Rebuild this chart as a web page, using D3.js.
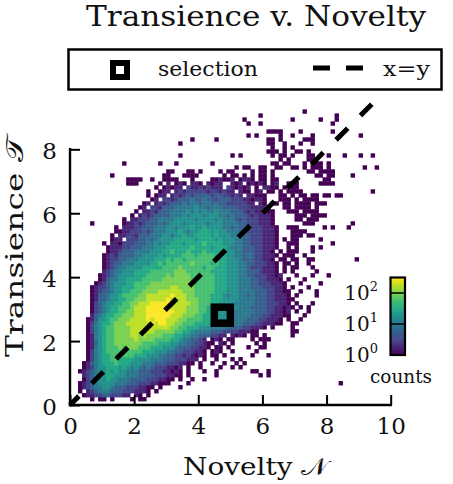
<!DOCTYPE html>
<html><head><meta charset="utf-8">
<script src="https://cdnjs.cloudflare.com/ajax/libs/d3/7.8.5/d3.min.js"></script>
<style>body{margin:0;background:#fff}svg{display:block}</style>
</head><body>
<svg id="chart" width="453" height="484"></svg>
<script>
// ---------------- data ----------------
const titleText = "Transience v. Novelty";
const xLabelText = "Novelty \u{1D4A9}";
const yLabelText = "Transience \u{1D4AF}";
const legendLabels = ["selection", "x=y"];
const xTicks = [0, 2, 4, 6, 8, 10];
const yTicks = [0, 2, 4, 6, 8];
const cbTicks = [1, 10, 100];
const cbTickExp = ["0", "1", "2"];
const binSize = 0.125;
const selectionPoint = [4.75, 2.81];
const identityRange = [0, 9.41];
// 2D histogram, one entry per run of bins: [y-bin row, first x-bin column, levels]
// level chars: '.' empty, '0'..'9','a' = 4*log10(count)   (spaces only separate groups)
const countRows = [
 [1,5,"0.00.0....0.00"],
 [2,3,"011223322211.10.0"],
 [3,2,"0.1234443332221110.0"],
 [4,2,"0123445543332221100.0"],[4,27,"0"],
 [5,2,"01234555544433322211000"],[5,29,"0"],[5,67,"0"],
 [6,3,"02345565544433332221100.0"],[6,30,"0"],[6,33,"0"],
 [7,3,"1234556655544433332221100.0"],[7,36,"0"],[7,47,"0.0"],
 [8,2,"01234556565544433322211010"],[8,29,"0"],[8,33,"0"],[8,36,"0"],[8,45,"00..0"],
 [9,3,"0124556665654543432221101.0"],[9,32,"0"],[9,37,"0"],[9,40,"0.0"],
 [10,3,"0134566676665554443332221100.0"],[10,35,"0"],[10,38,"0"],[10,41,"0.0"],
 [11,4,"0245667766665555444333222111.0"],[11,36,"0"],[11,40,"0.0"],
 [12,4,"02456 67777 77666 55544 33221 21010 .00.0"],[12,45,"0"],[12,49,"0"],
 [13,4,"02456 77778 77776 66555 44332 22110 .010. .0"],[13,46,"0"],
 [14,4,"01456 77787 88877 76665 55433 32211 0.00. 0"],[14,44,"0"],[14,47,"00"],
 [15,4,"01356 77888 88887 77766 65544 33221 00.10 .0"],[15,46,"0"],[15,48,"0"],
 [16,4,"01456 77888 88988 88777 76654 43321 .010. 00"],[16,45,"0"],[16,47,"000"],
 [17,4,"01456 77888 89989 88887 77665 54433 32211 .1010 .00"],[17,48,"0"],[17,55,"0"],
 [18,4,"02456 77888 89999 99888 88776 65444 43332 22211 100"],[18,55,"00"],
 [19,4,"02456 77888 89999 99999 98877 66655 54444 33332 21110 .0"],[19,55,"0"],
 [20,4,"02456 67888 99999 9a9aa 99887 77666 65555 44443 33221 1100"],[20,55,"00"],
 [21,4,"01355 67788 89999 a9aaa 99988 77776 66555 54444 33322 1110. 0"],[21,57,"0"],
 [22,5,"13456 67788 8999a aaaaa 99988 87766 65555 44444 33322 11100"],[22,58,"0"],
 [23,5,"02345 66778 8999a aaaaa a9998 88776 65555 44444 43332 21101 .0"],[23,59,"0"],
 [24,5,"02345 66777 8999a aaaaa 99998 88776 65555 45444 33332 21101 0.0"],[24,59,"0"],
 [25,5,"02345 56677 88999 aaaaa a9999 88777 66555 54444 43332 22110 .0"],[25,60,"0"],
 [26,5,"01334 55667 78889 9999a 99998 88777 66655 55444 43332 21110 0"],
 [27,5,"01334 55677 77889 99999 a9998 87777 66654 55443 43332 21110 .0"],[27,61,"0"],
 [28,5,"01233 45566 77788 88999 99988 87777 76665 55444 43332 21100 ..0"],[28,61,"0"],
 [29,5,"01223 45566 67778 88888 99888 87777 76665 55444 33322 2110. 0"],[29,59,"0"],
 [30,6,"01234 55566 77778 88888 88888 77777 66655 54443 32221 110"],[30,57,"0"],[30,62,"0"],
 [31,7,"01344 55666 67777 78888 88877 77776 66555 44433 22111 0.0"],[31,58,"0"],
 [32,7,"01234 55556 66777 77878 88877 77776 66555 44332 22110 1...0"],[32,60,"0"],[32,64,"0"],
 [33,8,"12344 55566 66777 77788 87777 77666 65554 43332 1110. 0.0"],[33,61,"0"],
 [34,8,"01234 45555 66666 77778 77777 67766 65554 43222 1110. 0.00"],[34,60,"0"],
 [35,8,"01233 44455 55667 67777 77877 77676 65554 43322 2110. 00.0"],[35,59,"0"],
 [36,8,"01223 34445 55566 67677 67777 77776 65554 33322 110.0 0.00"],[36,59,"00"],[36,71,"0"],
 [37,8,"01213 33344 55556 56666 77767 77766 65544 34322 1110. 000"],[37,58,"0"],
 [38,9,"01123 33444 45556 67666 76667 66666 55443 33221 10.0. 000"],[38,60,"0"],
 [39,9,"01112 23334 44555 66666 67666 65666 54443 33221 110.. 0.0"],[39,60,"0"],[39,62,"0"],
 [40,8,"0.110 22233 34454 55666 56666 76666 55544 33222 1110. .000"],[40,65,"0"],
 [41,10,"011.2 22334 34555 56666 65666 65655 54433 22211 10.0. 00"],[41,62,"0"],
 [42,10,"0.112 21333 44455 45565 56666 56555 44433 22211 10... 000.00"],
 [43,11,"00112 22323 44455 56545 56665 65544 43322 22111 0...0 000"],
 [44,11,"0.111 22333 44455 45556 55655 55443 43332 22111 0"],[44,54,"000"],[44,63,"0.0"],[44,69,"0"],
 [45,5,"0"],[45,13,"01121 23334 34555 45555 54555 44443 32221 110"],[45,58,"000"],[45,70,"0"],
 [46,13,"0.112 22334 44455 55545 55545 44432 32221 110"],[46,56,"00.000"],
 [47,15,"0.121 23333 44454 55545 55443 43332 12111 0"],[47,56,"000.0000"],
 [48,16,"0.112 13334 44454 54544 54443 33212 11100"],[48,54,"000.0000"],
 [49,17,"01.22 13334 44445 44344 43333 22211 110"],[49,53,"00.0000.0"],
 [50,12,"0"],[50,18,"01.12 12333 43443 44343 32222 211.1 0"],[50,50,"00.00.0000.000"],
 [51,20,"01.22 12333 43343 32333 22211 0110"],[51,52,"000.0.0000"],
 [52,19,"0.011 .1212 32333 32332 2121. 11000"],[52,52,"00.0.00.00.00.00"],
 [53,19,"0..01 1.121 22222 12212 11.10 0.01. 00"],[53,52,"0.0000"],[53,75,"0"],
 [54,21,"0.010 11.21 12121 11.21 0101. 0.110 0.0"],[54,55,"00"],
 [55,14,"000"],[55,22,"0.1.0 10.11 0.101 1..10 1.010 10.01 ..000"],[55,62,"0000"],
 [56,14,"0000. .0..0 000.. .0... .0010 01.01 10.00 .00"],[56,63,"00"],
 [57,10,"0"],[57,23,"00... 0000. ..... 0.00. 0.0.0 0.0"],[57,61,"00.00"],[57,70,"0"],
 [58,24,"00...00.0....0.00"],[58,45,"0.00.0"],[58,59,"00.0000"],
 [59,41,"0.00. .00.. 00..0 0.0.0 00.0"],[59,73,"0"],[59,76,"0"],
 [60,13,"0"],[60,22,"0"],[60,26,"0"],[60,35,"0"],[60,50,"00.00...0.000.0"],
 [61,52,"0.0"],[61,59,"00"],
 [62,27,"0"],[62,40,"0.0"],[62,50,"0.00.0...00...0"],[62,68,"0"],[62,72,"0"],[62,75,"0"],
 [63,49,"000.0..00.0"],
 [64,50,"0..0.0"],
 [65,27,"0"],[65,49,"00..0...0..0"],
 [66,30,"0"],[66,36,"0"],[66,49,"00.0.....000"],
 [67,44,"0.0.....0..0....0"],[67,72,"0"],
 [68,49,"0000....0.......0"],
 [70,44,"0..0"],[70,65,"0"],
 [71,43,"0"],[71,55,"0"],[71,62,"0"],[71,66,"0"],
 [72,47,"0"],[72,66,"0"],
 [73,58,"0"]
];

// ---------------- chart ----------------
const FONT = '"DejaVu Serif", "Liberation Serif", serif';
const svg = d3.select("#chart");
const x = d3.scaleLinear().domain([0, 10]).range([70, 390.7]);
const y = d3.scaleLinear().domain([0, 10]).range([405, 85.4]);
const cmax = Math.pow(10, 2.5);
const color = d3.scaleSequentialLog(d3.interpolateViridis).domain([1, cmax]);

const cells = [];
countRows.forEach(([j, i0, s]) => {
  s.replace(/ /g, "").split("").forEach((c, k) => {
    if (c === ".") return;
    const lvl = c === "a" ? 10 : +c;
    cells.push({ i: i0 + k, j, count: Math.pow(10, lvl / 4) });
  });
});

svg.append("g").selectAll("rect").data(cells).join("rect")
  .attr("x", d => x(d.i * binSize))
  .attr("y", d => y((d.j + 1) * binSize))
  .attr("width", d => x((d.i + 1) * binSize) - x(d.i * binSize) + 0.4)
  .attr("height", d => y(d.j * binSize) - y((d.j + 1) * binSize) + 0.4)
  .attr("fill", d => color(Math.min(d.count, cmax)));

// identity line
svg.append("line")
  .attr("x1", x(identityRange[0])).attr("y1", y(identityRange[0]))
  .attr("x2", x(identityRange[1])).attr("y2", y(identityRange[1]))
  .attr("stroke", "#000").attr("stroke-width", 5)
  .attr("stroke-dasharray", "16.5,18").attr("stroke-dashoffset", 3.9);

// selection square
const sel = 0.5;
svg.append("rect")
  .attr("x", x(selectionPoint[0] - sel / 2)).attr("y", y(selectionPoint[1] + sel / 2))
  .attr("width", x(sel) - x(0)).attr("height", y(0) - y(sel))
  .attr("fill", "none").attr("stroke", "#000").attr("stroke-width", 7.5);

// axes
const xAxis = svg.append("g").attr("transform", "translate(0,405)")
  .call(d3.axisBottom(x).tickValues(xTicks).tickSizeInner(-10).tickSizeOuter(0).tickPadding(13));
const yAxis = svg.append("g").attr("transform", "translate(70,0)")
  .call(d3.axisLeft(y).tickValues(yTicks).tickSizeInner(-10).tickSizeOuter(0).tickPadding(13));
[xAxis, yAxis].forEach(g => {
  g.select(".domain").remove();
  g.selectAll(".tick line").attr("stroke", "#000").attr("stroke-width", 2);
  g.selectAll(".tick text").attr("font-family", FONT).attr("font-size", 23).attr("fill", "#111");
});
yAxis.selectAll(".tick text").attr("dy", "0.42em");
svg.append("line").attr("x1", x(0)).attr("x2", x(10)).attr("y1", y(0)).attr("y2", y(0))
  .attr("stroke", "#000").attr("stroke-width", 2.4).attr("stroke-linecap", "square");
svg.append("line").attr("x1", x(0)).attr("x2", x(0)).attr("y1", y(0)).attr("y2", y(8))
  .attr("stroke", "#000").attr("stroke-width", 2.4).attr("stroke-linecap", "square");

function span(t, w) {
  return t.attr("textLength", w).attr("lengthAdjust", "spacingAndGlyphs");
}

// title
span(svg.append("text").attr("x", 86).attr("y", 26).attr("font-family", FONT)
  .attr("font-size", 27.5).attr("fill", "#111").text(titleText), 340);
// x label
span(svg.append("text").attr("x", 183).attr("y", 475).attr("font-family", FONT)
  .attr("font-size", 24).attr("fill", "#111").text(xLabelText), 145);
// y label
span(svg.append("text").attr("transform", "translate(22.5,357) rotate(-90)")
  .attr("font-family", FONT).attr("font-size", 23.5).attr("fill", "#111").text(yLabelText), 220);

// legend
svg.append("rect").attr("x", 68.5).attr("y", 49.5).attr("width", 373).attr("height", 40)
  .attr("fill", "#fff").attr("stroke", "#000").attr("stroke-width", 2.5);
svg.append("rect").attr("x", 113).attr("y", 63).attr("width", 14).attr("height", 14)
  .attr("fill", "none").attr("stroke", "#000").attr("stroke-width", 6);
span(svg.append("text").attr("x", 158).attr("y", 76).attr("font-family", FONT)
  .attr("font-size", 21).attr("fill", "#111").text(legendLabels[0]), 100);
svg.append("line").attr("x1", 313).attr("x2", 363).attr("y1", 68).attr("y2", 68)
  .attr("stroke", "#000").attr("stroke-width", 5).attr("stroke-dasharray", "17,16");
span(svg.append("text").attr("x", 383).attr("y", 76).attr("font-family", FONT)
  .attr("font-size", 21).attr("fill", "#111").text(legendLabels[1]), 47);

// colorbar
const cb = d3.scaleLog().domain([1, cmax]).range([355, 277.5]);
const cbX = 390.5, cbW = 14.5;
const steps = d3.range(0, 80).map(k => Math.pow(10, 2.5 * k / 80));
svg.append("g").selectAll("rect").data(steps).join("rect")
  .attr("x", cbX).attr("width", cbW)
  .attr("y", d => cb(d * Math.pow(10, 2.5 / 80)) - 0.3)
  .attr("height", d => cb(d) - cb(d * Math.pow(10, 2.5 / 80)) + 0.6)
  .attr("fill", d => color(d * Math.pow(10, 1.25 / 80)));
cbTicks.slice(1).forEach(v => {
  svg.append("line").attr("x1", cbX).attr("x2", cbX + cbW).attr("y1", cb(v)).attr("y2", cb(v))
    .attr("stroke", "#000").attr("stroke-width", 1.5);
});
svg.append("rect").attr("x", cbX).attr("y", cb(cmax)).attr("width", cbW).attr("height", cb(1) - cb(cmax))
  .attr("fill", "none").attr("stroke", "#000").attr("stroke-width", 2.2);
cbTicks.forEach((v, k) => {
  const t = svg.append("text").attr("x", 378).attr("y", cb(v) + 6.5).attr("text-anchor", "end")
    .attr("font-family", FONT).attr("font-size", 20).attr("fill", "#111");
  t.append("tspan").text("10");
  t.append("tspan").attr("font-size", 13).attr("dy", -9).text(cbTickExp[k]);
});
span(svg.append("text").attr("x", 370).attr("y", 383).attr("font-family", FONT)
  .attr("font-size", 19).attr("fill", "#111").text("counts"), 62);
</script>
</body></html>
